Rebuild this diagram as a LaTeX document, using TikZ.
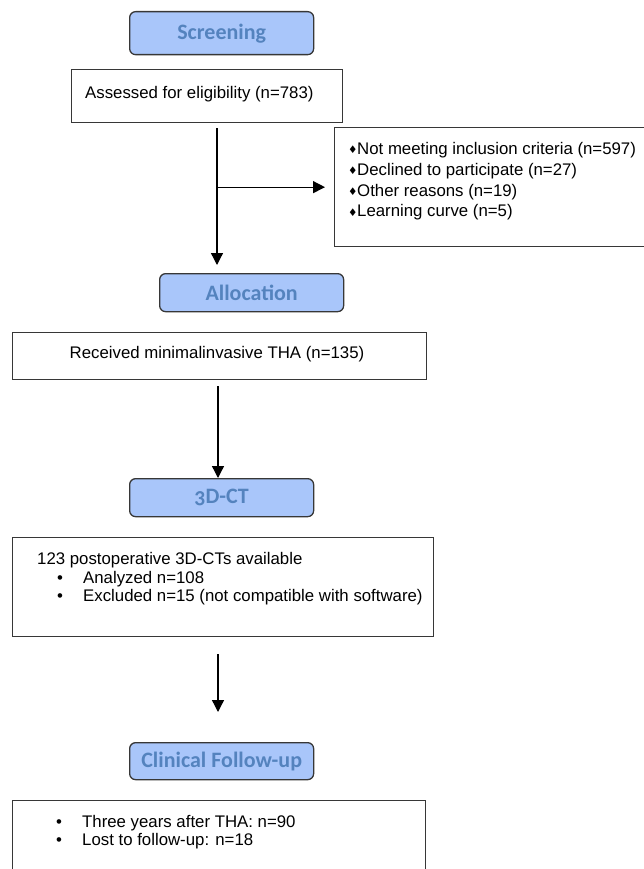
\documentclass[tikz,border=0pt]{standalone}
\usepackage{fontspec}
\setmainfont{Liberation Sans}
\newfontfamily\hdrfont{Carlito}[Numbers=OldStyle]
\newfontfamily\symfont{DejaVu Sans}
\usetikzlibrary{arrows.meta}
\definecolor{hdrfill}{RGB}{169,198,250}
\definecolor{hdrtext}{RGB}{84,131,190}
\definecolor{boxline}{RGB}{55,55,55}
\newcommand\dmd{\makebox[9pt][l]{\raisebox{0.5pt}{\symfont\fontsize{10.5}{10}\selectfont ♦}}}
\newcommand\bul{\makebox[26pt][l]{•}}
\begin{document}
\begin{tikzpicture}[x=1pt,y=-1pt,
  hdr/.style={draw=boxline, line width=1.3pt, fill=hdrfill, rounded corners=6pt,
    minimum width=184pt, anchor=north west, inner sep=0pt,
    font=\hdrfont\bfseries\fontsize{22}{22}\selectfont, text=hdrtext},
  databox/.style={draw=boxline, line width=1.3pt, fill=white, anchor=north west, inner sep=0pt},
  txt/.style={anchor=base west, inner sep=0pt, font=\fontsize{16.8}{19}\selectfont},
  arr/.style={-{Triangle[length=12pt,width=12pt]}, line width=1.3pt, black}]
\useasboundingbox (0,0) rectangle (643,869);
\coordinate (axis) at (217,0);
\coordinate (axis2) at (218,0);
% headers
\node[hdr, minimum height=43pt] (scr) at (129,11) {Screening};
\node[hdr, minimum height=38pt] (alloc) at (159,273) {Allocation};
\node[hdr, minimum height=38pt] (ct) at (129,478) {3D-CT};
\node[hdr, minimum height=37pt] (clin) at (129,742) {Clinical Follow-up};
% boxes
\node[databox, minimum width=271pt, minimum height=53pt] (assess) at (71,69) {};
\node[txt] (assesst) at (85,98.5) {Assessed for eligibility (n=783)};
\node[databox, minimum width=350pt, minimum height=119pt] (excl) at (334,127) {};
\node[txt] (ex1) at (348,154.5) {\dmd Not meeting inclusion criteria (n=597)};
\node[txt] (ex2) at (348,175.3) {\dmd Declined to participate (n=27)};
\node[txt] (ex3) at (348,196.1) {\dmd Other reasons (n=19)};
\node[txt] (ex4) at (348,216.9) {\dmd Learning curve (n=5)};
\node[databox, minimum width=414pt, minimum height=47pt] (recv) at (12,332) {};
\node[txt, anchor=base] (recvt) at (217,358.5) {Received minimalinvasive THA (n=135)};
\node[databox, minimum width=421pt, minimum height=99pt] (ctbox) at (12,537) {};
\node[txt] (ct1) at (37,564.8) {123 postoperative 3D-CTs available};
\node[txt] (ct2) at (57,583.2) {\bul Analyzed n=108};
\node[txt] (ct3) at (57,601.5) {\bul Excluded n=15 (not compatible with software)};
\node[databox, minimum width=413pt, minimum height=100pt] (fu) at (12,800) {};
\node[txt] (fu1) at (56,827.2) {\bul Three years after THA: n=90};
\node[txt] (fu2) at (56,845.5) {\bul Lost to follow-up: n=18};
% arrows
\draw[arr] ([yshift=-5pt]assess.south -| axis) -- ([yshift=8pt]alloc.north -| axis);
\draw[arr] (excl.west -| axis) -- ([xshift=-9pt]excl.west);
\draw[arr] ([yshift=-6pt]recv.south -| axis2) -- (ct.north -| axis2);
\draw[arr] ([yshift=-17pt]ctbox.south -| axis2) -- ([yshift=30pt]clin.north -| axis2);
\end{tikzpicture}
\end{document}
